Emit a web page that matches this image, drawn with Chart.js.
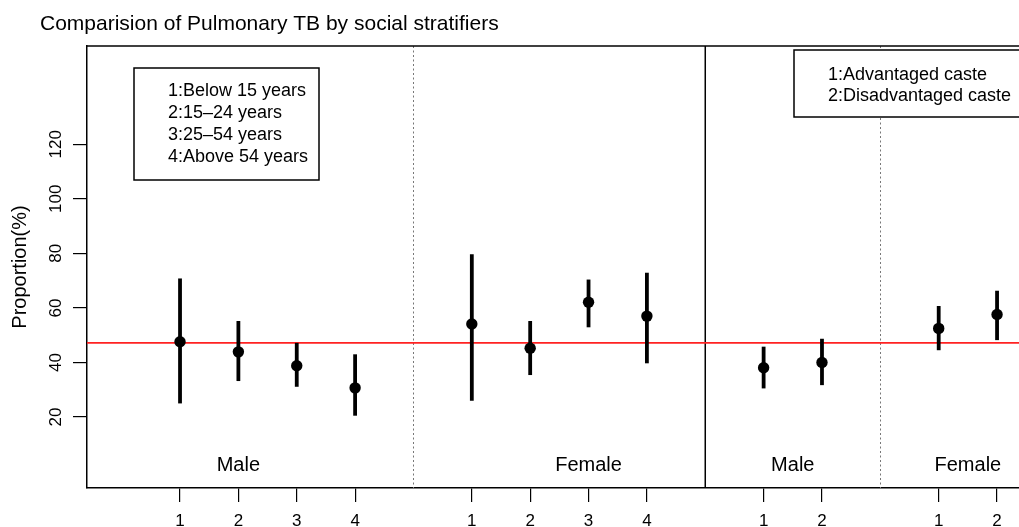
<!DOCTYPE html>
<html>
<head>
<meta charset="utf-8">
<script src="https://cdn.jsdelivr.net/npm/chart.js@4.4.1/dist/chart.umd.min.js"></script>
<style>
  html, body { margin: 0; padding: 0; background: #fff; overflow: hidden; }
  #wrap { width: 1019px; height: 527px; }
</style>
</head>
<body>
<div id="wrap"><canvas id="grafico" width="1019" height="527"></canvas></div>
<script>
// posiciones en x: 1-4 edad (hombre), 6-9 edad (mujer), 11-12 casta (hombre), 14-15 casta (mujer)
const posiciones = [1, 2, 3, 4, 6, 7, 8, 9, 11, 12, 14, 15];
const etiquetasX = ['1', '2', '3', '4', '1', '2', '3', '4', '1', '2', '1', '2'];
const proporcion = [47.6, 43.9, 38.8, 30.7, 54.1, 45.2, 62.1, 57.0, 38.1, 40.0, 52.5, 57.6];
const limiteInf = [25.0, 33.2, 31.1, 20.5, 26.0, 35.4, 52.9, 39.7, 30.5, 31.7, 44.5, 48.2];
const limiteSup = [70.8, 55.2, 47.2, 43.0, 79.7, 55.2, 70.4, 72.9, 45.8, 48.7, 60.7, 66.3];
const ticksY = [20, 40, 60, 80, 100, 120];
const promedio = 47.2;
const grupos = ['Male', 'Female', 'Male', 'Female'];
const centroGrupos = [2, 8, 11.5, 14.5];
const separadoresPunteados = [5, 13];
const separadorSolido = 10;
const leyendaEdad = ['1:Below 15 years', '2:15\u201324 years', '3:25\u201354 years', '4:Above 54 years'];
const leyendaCasta = ['1:Advantaged caste', '2:Disadvantaged caste'];

const fuente = '"Liberation Sans", Arial, sans-serif';

const puntos = posiciones.map((x, i) => ({ x: x, y: proporcion[i] }));

// lineas de fondo, separadores y barras de error
const barrasError = {
    id: 'barrasError',
    beforeDatasetsDraw(chart) {
        const { ctx, chartArea, scales: { x, y } } = chart;
        ctx.save();

        // separadores punteados
        ctx.strokeStyle = '#777';
        ctx.lineWidth = 1;
        ctx.setLineDash([2, 2.5]);
        separadoresPunteados.forEach(v => {
            const px = Math.round(x.getPixelForValue(v)) + 0.5;
            ctx.beginPath();
            ctx.moveTo(px, chartArea.top);
            ctx.lineTo(px, chartArea.bottom);
            ctx.stroke();
        });
        ctx.setLineDash([]);

        // separador solido
        ctx.strokeStyle = '#000';
        ctx.lineWidth = 1.5;
        const sx = x.getPixelForValue(separadorSolido);
        ctx.beginPath();
        ctx.moveTo(sx, chartArea.top);
        ctx.lineTo(sx, chartArea.bottom);
        ctx.stroke();

        // linea roja (promedio)
        const ry = y.getPixelForValue(promedio);
        ctx.strokeStyle = '#f22';
        ctx.lineWidth = 1.6;
        ctx.beginPath();
        ctx.moveTo(chartArea.left, ry);
        ctx.lineTo(chartArea.right, ry);
        ctx.stroke();

        // barras de error
        ctx.strokeStyle = '#000';
        ctx.lineWidth = 3.8;
        posiciones.forEach((v, i) => {
            const px = x.getPixelForValue(v);
            ctx.beginPath();
            ctx.moveTo(px, y.getPixelForValue(limiteInf[i]));
            ctx.lineTo(px, y.getPixelForValue(limiteSup[i]));
            ctx.stroke();
        });
        ctx.restore();
    },
    afterDraw(chart) {
        const { ctx, chartArea, scales: { x, y } } = chart;
        ctx.save();

        // borde superior del panel
        ctx.strokeStyle = '#000';
        ctx.lineWidth = 1.5;
        ctx.beginPath();
        ctx.moveTo(chartArea.left, chartArea.top);
        ctx.lineTo(chartArea.right, chartArea.top);
        ctx.stroke();

        // titulo
        ctx.fillStyle = '#000';
        ctx.textBaseline = 'alphabetic';
        ctx.textAlign = 'left';
        ctx.font = '21px ' + fuente;
        ctx.fillText('Comparision of Pulmonary TB by social stratifiers', 40, 30);

        // etiquetas de grupo
        ctx.font = '20px ' + fuente;
        ctx.textAlign = 'center';
        ctx.textBaseline = 'middle';
        grupos.forEach((g, i) => {
            ctx.fillText(g, x.getPixelForValue(centroGrupos[i]), y.getPixelForValue(2.4));
        });

        // cajas de leyenda
        ctx.fillStyle = '#fff';
        ctx.fillRect(134, 68, 185, 112);
        ctx.strokeRect(134, 68, 185, 112);
        ctx.fillRect(794, 50, 300, 67);
        ctx.strokeRect(794, 50, 300, 67);

        ctx.fillStyle = '#000';
        ctx.font = '18px ' + fuente;
        ctx.textAlign = 'left';
        leyendaEdad.forEach((t, i) => ctx.fillText(t, 168, 91 + i * 22));
        leyendaCasta.forEach((t, i) => ctx.fillText(t, 828, 75 + i * 21));
        ctx.restore();
    }
};

new Chart(document.getElementById('grafico'), {
    type: 'scatter',
    data: {
        datasets: [{
            data: puntos,
            pointRadius: 5.7,
            pointBackgroundColor: '#000',
            pointBorderWidth: 0
        }]
    },
    options: {
        responsive: false,
        animation: false,
        events: [],
        layout: { autoPadding: false, padding: { top: 46, left: 0, right: 0, bottom: 0 } },
        plugins: {
            legend: { display: false },
            tooltip: { enabled: false }
        },
        scales: {
            x: {
                type: 'linear',
                min: -0.594,
                max: 15.376,
                afterFit(scale) {
                    scale.height = 39;
                    scale.paddingLeft = 0;
                    scale.paddingRight = 0;
                },
                afterBuildTicks(scale) { scale.ticks = posiciones.map(v => ({ value: v })); },
                ticks: {
                    callback: (v, i) => etiquetasX[i],
                    autoSkip: false,
                    maxRotation: 0,
                    color: '#000',
                    padding: 9,
                    font: { family: fuente, size: 17 }
                },
                grid: { drawOnChartArea: false, tickLength: 14, color: '#000', lineWidth: 1.2 },
                border: { display: true, color: '#000', width: 1.5 }
            },
            y: {
                min: -6,
                max: 156,
                afterFit(scale) {
                    scale.width = 87;
                    scale.paddingTop = 0;
                    scale.paddingBottom = 0;
                },
                afterBuildTicks(scale) { scale.ticks = ticksY.map(v => ({ value: v })); },
                ticks: {
                    minRotation: 90,
                    maxRotation: 90,
                    crossAlign: 'center',
                    color: '#000',
                    padding: 3,
                    font: { family: fuente, size: 17 }
                },
                grid: { drawOnChartArea: false, tickLength: 14, color: '#000', lineWidth: 1.2 },
                border: { display: true, color: '#000', width: 1.5 },
                title: {
                    display: true,
                    text: 'Proportion(%)',
                    color: '#000',
                    padding: { top: 8, bottom: 0 },
                    font: { family: fuente, size: 20 }
                }
            }
        }
    },
    plugins: [barrasError]
});
</script>
</body>
</html>
